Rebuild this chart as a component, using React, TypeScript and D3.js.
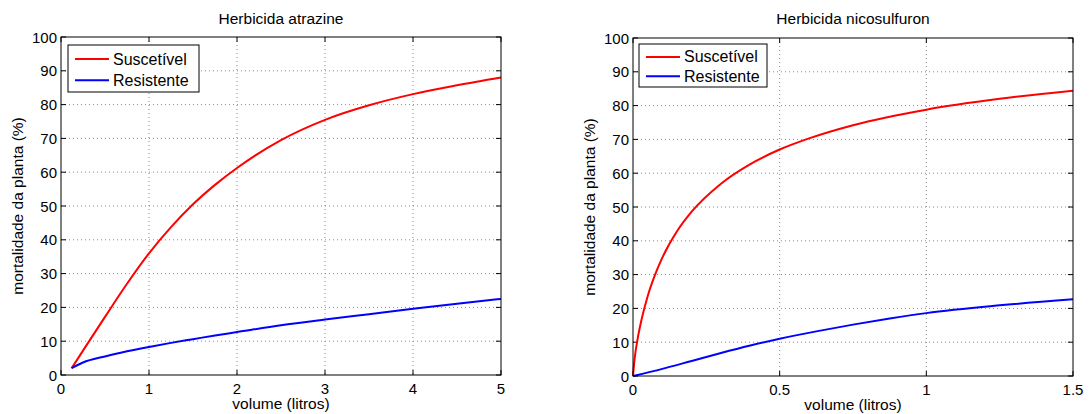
import { useEffect, useRef } from 'react'
import * as d3 from 'd3'

// series names (legend)
const seriesNames = ['Suscetível', 'Resistente']
const seriesColors = ['#ff0000', '#0000ff']

// Herbicida atrazine
const atrazineVolume = [0.12, 0.25, 0.5, 0.75, 1, 1.25, 1.5, 1.75, 2, 2.5, 3, 3.5, 4, 4.5, 5]
const atrazineSusc = [2, 7.2, 17.2, 27, 36, 43.75, 50.5, 56.25, 61.25, 69.5, 75.5, 79.8, 83.1, 85.7, 88]
const atrazineResist = [2, 3.7, 5.5, 7.0, 8.3, 9.5, 10.6, 11.7, 12.7, 14.7, 16.4, 18.0, 19.6, 21.1, 22.5]

// Herbicida nicosulfuron
const nicoVolumeSusc = [0, 0.005, 0.015, 0.03, 0.05, 0.075, 0.1, 0.15, 0.2, 0.3, 0.4, 0.5, 0.6, 0.75, 1, 1.25, 1.5]
const nicoSusc = [0, 4.7, 10.6, 17.0, 23.6, 29.9, 35.0, 42.8, 48.6, 56.9, 62.7, 67.0, 70.3, 74.2, 78.8, 82.0, 84.4]
const nicoVolumeResist = [0, 0.1, 0.2, 0.3, 0.4, 0.5, 0.625, 0.75, 0.875, 1, 1.25, 1.5]
const nicoResist = [0, 2.1, 4.45, 6.8, 9.0, 11.0, 13.2, 15.2, 17.0, 18.6, 20.9, 22.7]

const atrazineTicks = [0, 1, 2, 3, 4, 5]
const nicoTicks = [0, 0.5, 1, 1.5]

const FONT = '"Liberation Sans", Arial, Helvetica, sans-serif'

const panels = [
  {
    title: 'Herbicida atrazine',
    xMax: 5,
    xTicks: atrazineTicks,
    series: [
      { x: atrazineVolume, y: atrazineSusc },
      { x: atrazineVolume, y: atrazineResist },
    ],
    box: { x: 61, y: 37, w: 440, h: 338 },
    legend: { x: 68, y: 45, w: 131, h: 47 },
  },
  {
    title: 'Herbicida nicosulfuron',
    xMax: 1.5,
    xTicks: nicoTicks,
    series: [
      { x: nicoVolumeSusc, y: nicoSusc },
      { x: nicoVolumeResist, y: nicoResist },
    ],
    box: { x: 633, y: 38, w: 440, h: 338 },
    legend: { x: 639, y: 44, w: 128, h: 43 },
  },
]

export default function App() {
  const svgRef = useRef<SVGSVGElement>(null)

  useEffect(() => {
    if (!svgRef.current) return
    const svg = d3.select(svgRef.current)
    svg.selectAll('*').remove()

    panels.forEach(p => {
      const { box, legend } = p
      const x = d3.scaleLinear().domain([0, p.xMax]).range([box.x, box.x + box.w])
      const y = d3.scaleLinear().domain([0, 100]).range([box.y + box.h, box.y])
      const yTicks = y.ticks(10)
      const g = svg.append('g')

      // white plot area
      g.append('rect').attr('x', box.x).attr('y', box.y)
        .attr('width', box.w).attr('height', box.h).attr('fill', '#fff')

      // grid (dotted)
      g.selectAll('.gx').data(p.xTicks.slice(1, -1)).join('line')
        .attr('x1', d => x(d)).attr('x2', d => x(d))
        .attr('y1', box.y).attr('y2', box.y + box.h)
        .attr('stroke', '#8a8a8a').attr('stroke-width', 1).attr('stroke-dasharray', '1,3')
      g.selectAll('.gy').data(yTicks.slice(1, -1)).join('line')
        .attr('x1', box.x).attr('x2', box.x + box.w)
        .attr('y1', d => y(d)).attr('y2', d => y(d))
        .attr('stroke', '#8a8a8a').attr('stroke-width', 1).attr('stroke-dasharray', '1,3')

      // ticks on all sides, pointing inward
      const tl = 5
      p.xTicks.forEach(t => {
        g.append('line').attr('x1', x(t)).attr('x2', x(t))
          .attr('y1', box.y + box.h).attr('y2', box.y + box.h - tl).attr('stroke', '#000')
        g.append('line').attr('x1', x(t)).attr('x2', x(t))
          .attr('y1', box.y).attr('y2', box.y + tl).attr('stroke', '#000')
      })
      yTicks.forEach(t => {
        g.append('line').attr('x1', box.x).attr('x2', box.x + tl)
          .attr('y1', y(t)).attr('y2', y(t)).attr('stroke', '#000')
        g.append('line').attr('x1', box.x + box.w).attr('x2', box.x + box.w - tl)
          .attr('y1', y(t)).attr('y2', y(t)).attr('stroke', '#000')
      })

      // curves
      const line = d3.line<[number, number]>()
        .x(d => x(d[0])).y(d => y(d[1]))
        .curve(d3.curveMonotoneX)
      p.series.forEach((s, i) => {
        const pts = s.x.map((v, k) => [v, s.y[k]] as [number, number])
        g.append('path').attr('d', line(pts) ?? '')
          .attr('fill', 'none').attr('stroke', seriesColors[i]).attr('stroke-width', 2)
          .attr('stroke-linejoin', 'round')
      })

      // frame
      g.append('rect').attr('x', box.x).attr('y', box.y)
        .attr('width', box.w).attr('height', box.h)
        .attr('fill', 'none').attr('stroke', '#000').attr('stroke-width', 1)

      // tick labels
      g.selectAll('.xl').data(p.xTicks).join('text')
        .attr('x', d => x(d)).attr('y', box.y + box.h + 19)
        .attr('text-anchor', 'middle').attr('font-family', FONT).attr('font-size', 15)
        .attr('fill', '#000').text(d => String(d))
      g.selectAll('.yl').data(yTicks).join('text')
        .attr('x', box.x - 4).attr('y', d => y(d) + 5.5)
        .attr('text-anchor', 'end').attr('font-family', FONT).attr('font-size', 15)
        .attr('fill', '#000').text(d => String(d))

      // title and axis labels
      g.append('text').attr('x', box.x + box.w / 2).attr('y', 24)
        .attr('text-anchor', 'middle').attr('font-family', FONT).attr('font-size', 15.5)
        .text(p.title)
      g.append('text').attr('x', box.x + box.w / 2).attr('y', box.y + box.h + 34)
        .attr('text-anchor', 'middle').attr('font-family', FONT).attr('font-size', 15.5)
        .text('volume (litros)')
      const ly = box.y + box.h / 2
      const lx = box.x - 38
      g.append('text').attr('transform', `translate(${lx},${ly}) rotate(-90)`)
        .attr('text-anchor', 'middle').attr('font-family', FONT).attr('font-size', 15.5)
        .text('mortalidade da planta (%)')

      // legend
      const lg = g.append('g')
      lg.append('rect').attr('x', legend.x).attr('y', legend.y)
        .attr('width', legend.w).attr('height', legend.h)
        .attr('fill', '#fff').attr('stroke', '#000').attr('stroke-width', 1)
      const rows = [legend.y + legend.h * 0.3, legend.y + legend.h * 0.75]
      seriesNames.forEach((name, i) => {
        lg.append('line').attr('x1', legend.x + 7).attr('x2', legend.x + 41)
          .attr('y1', rows[i]).attr('y2', rows[i])
          .attr('stroke', seriesColors[i]).attr('stroke-width', 2)
        lg.append('text').attr('x', legend.x + 45).attr('y', rows[i] + 5.5)
          .attr('font-family', FONT).attr('font-size', 16).text(name)
      })
    })
  }, [])

  return (
    <svg ref={svgRef} width={1091} height={414}
      style={{ position: 'absolute', left: 0, top: 0, display: 'block', background: '#fff' }} />
  )
}
